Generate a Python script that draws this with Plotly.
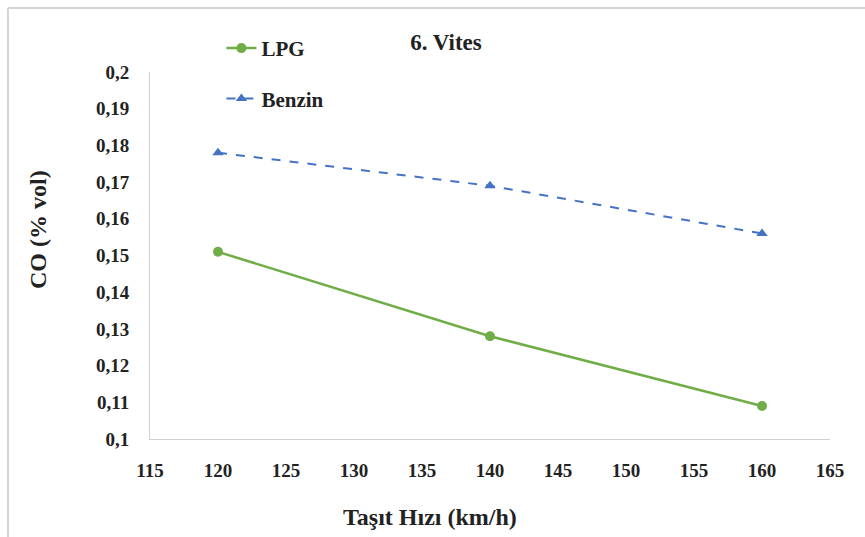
import plotly.graph_objects as go

speeds = [120, 140, 160]
lpg = [0.151, 0.128, 0.109]
benzin = [0.178, 0.169, 0.156]
x_ticks = [115, 120, 125, 130, 135, 140, 145, 150, 155, 160, 165]
y_ticks = [0.10, 0.11, 0.12, 0.13, 0.14, 0.15, 0.16, 0.17, 0.18, 0.19, 0.20]
y_labels = ["0,1", "0,11", "0,12", "0,13", "0,14", "0,15", "0,16", "0,17", "0,18", "0,19", "0,2"]

FONT = "Liberation Serif, Times New Roman, serif"
INK = "#222222"

fig = go.Figure()
fig.add_trace(go.Scatter(
    x=speeds, y=lpg, name="<b>LPG</b>", mode="lines+markers", legendgroup="a",
    line=dict(color="#70ad47", width=2.5),
    marker=dict(symbol="circle", size=10, color="#70ad47"),
))
fig.add_trace(go.Scatter(
    x=speeds, y=benzin, name="<b>Benzin</b>", mode="lines+markers", legendgroup="b",
    line=dict(color="#4472c4", width=2, dash="dash"),
    marker=dict(symbol="triangle-up", size=10, color="#4472c4"),
))

fig.add_annotation(text="<b>Taşıt Hızı (km/h)</b>", xref="paper", yref="paper",
                   x=(430 - 150) / 680, y=(439 - 517) / 367, xanchor="center", yanchor="middle",
                   showarrow=False, font=dict(family=FONT, size=24, color=INK))
fig.add_annotation(text="<b>CO (% vol)</b>", xref="paper", yref="paper", textangle=-90,
                   x=(38 - 150) / 680, y=(439 - 230) / 367, xanchor="center", yanchor="middle",
                   showarrow=False, font=dict(family=FONT, size=24, color=INK))

fig.update_layout(
    width=865, height=537,
    margin=dict(l=150, r=35, t=72, b=98),
    paper_bgcolor="white", plot_bgcolor="white",
    font=dict(family=FONT, color=INK),
    title=dict(text="<b>6. Vites</b>", x=446 / 865, xanchor="center",
               y=1 - 42 / 537, yanchor="middle",
               font=dict(family=FONT, size=23, color=INK)),
    legend=dict(x=0.105, y=1.12, xanchor="left", yanchor="top",
                bgcolor="rgba(0,0,0,0)", font=dict(family=FONT, size=21, color=INK),
                traceorder="grouped", tracegroupgap=20),
    xaxis=dict(range=[115, 165], tickmode="array", tickvals=x_ticks,
               ticktext=[f"<b>{v}</b>" for v in x_ticks],
               tickfont=dict(family=FONT, size=19, color=INK),
               showgrid=False, zeroline=False, showline=True, linecolor="#d0d0d0", linewidth=1,
               ticks="", ticklabelstandoff=14),
    yaxis=dict(range=[0.1, 0.2], tickmode="array", tickvals=y_ticks,
               ticktext=[f"<b>{t}</b>" for t in y_labels],
               tickfont=dict(family=FONT, size=19, color=INK),
               showgrid=False, zeroline=False, showline=True, linecolor="#d0d0d0", linewidth=1,
               ticks="", ticklabelstandoff=16),
    shapes=[
        dict(type="line", xref="paper", yref="paper", x0=(8 - 150) / 680, x1=1.06,
             y0=(439 - 8) / 367, y1=(439 - 8) / 367, line=dict(color="#d4d4d4", width=2)),
        dict(type="line", xref="paper", yref="paper", x0=(8 - 150) / 680, x1=(8 - 150) / 680,
             y0=(439 - 8) / 367, y1=-0.3, line=dict(color="#d4d4d4", width=2)),
    ],
)

fig.write_html("out.html")
